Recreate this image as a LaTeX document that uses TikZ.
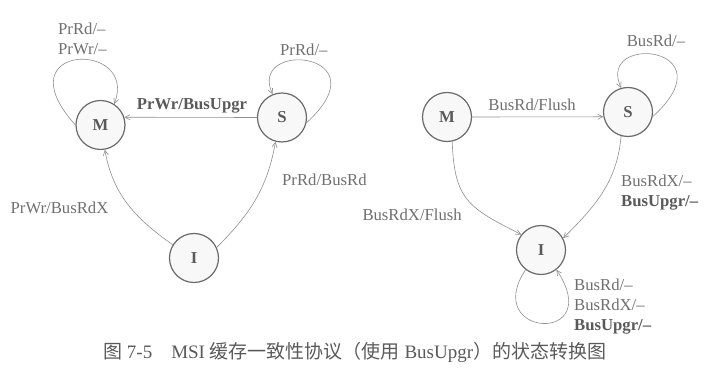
\documentclass[tikz,border=0pt]{standalone}
\usepackage{fontspec}
\setmainfont{Liberation Serif}
\newfontfamily\cjk{Noto Sans CJK SC}
\usetikzlibrary{arrows.meta}
\definecolor{inkgray}{HTML}{6F6F6F}
\definecolor{boldgray}{HTML}{5A5A5A}
\definecolor{linegray}{HTML}{8F8F8F}
\definecolor{ringgray}{HTML}{6A6A6A}
\definecolor{statefill}{HTML}{F8F8F8}

\begin{document}
\begin{tikzpicture}[x=1pt,y=1pt,
  state/.style={circle, draw=ringgray, line width=1.2pt, fill=statefill,
    minimum size=49pt, inner sep=0pt,
    font=\fontsize{16.7}{20}\selectfont\bfseries, text=boldgray},
  trans/.style={draw=linegray, line width=0.6pt,
    -{Straight Barb[length=5pt,width=5pt]}},
  lbl/.style={font=\fontsize{16.7}{20}\selectfont, text=inkgray, inner sep=0pt},
  blbl/.style={font=\fontsize{16.7}{20}\selectfont\bfseries, text=boldgray, inner sep=0pt},
]
\useasboundingbox (0,0) rectangle (718,377);

% ---------- left: processor-side transitions ----------
\node[state] (lM) at (100.5,252) {M};
\node[state] (lS) at (282,259.5) {S};
\node[state] (lI) at (194,119) {I};

\draw[trans] (lM.180) .. controls ([shift={(-74,82)}]lM.180)
                         and ([shift={(25,64)}]lM.57) .. (lM.57);
\draw[trans] (lS.-12) .. controls ([shift={(78,71)}]lS.-12)
                         and ([shift={(-25,55)}]lS.112) .. (lS.112);
\draw[trans] (lS.west) -- (lM.18);
\draw[trans] (lI.148) to[out=145, in=280] (lM.280);
\draw[trans] (lI.25) to[out=45, in=260] (lS.255);

\node[lbl, anchor=base west] (tM1) at (58,342.5) {PrRd/–};
\node[lbl, anchor=base west] (tM2) at (58,322.5) {PrWr/–};
\node[lbl, anchor=base west] (tS1) at (280,321.5) {PrRd/–};
\node[blbl, anchor=base] (tSM) at (192,267) {PrWr/BusUpgr};
\node[lbl, anchor=base] (tIM) at (59.5,163) {PrWr/BusRdX};
\node[lbl, anchor=base west] (tIS) at (282,191) {PrRd/BusRd};

% ---------- right: bus-side transitions ----------
\node[state] (rM) at (447,260) {M};
\node[state] (rS) at (628,265) {S};
\node[state] (rI) at (541,127) {I};

\draw[trans] (rS.-11) .. controls ([shift={(78,71)}]rS.-11)
                         and ([shift={(-25,55)}]rS.106) .. (rS.106);
\draw[trans] (rI.232) .. controls ([shift={(-45,-68)}]rI.232)
                         and ([shift={(50,-75)}]rI.-52) .. (rI.-52);
\draw[trans] (rM.east) -- (rS.191);
\draw[trans] (rM.-78) to[out=-88, in=153, looseness=1.3] (rI.142);
\draw[trans] (rS.254) to[out=-95, in=45] (rI.28);

\node[lbl, anchor=base] (uS1) at (656,330.3) {BusRd/–};
\node[lbl, anchor=base] (uMS) at (532,266) {BusRd/Flush};
\node[lbl, anchor=base east] (uMI) at (462,156) {BusRdX/Flush};
\node[lbl, anchor=base west] (uSI1) at (621,190.3) {BusRdX/–};
\node[blbl, anchor=base west] (uSI2) at (621,170.3) {BusUpgr/–};
\node[lbl, anchor=base west] (uI1) at (574,86.3) {BusRd/–};
\node[lbl, anchor=base west] (uI2) at (574,66.3) {BusRdX/–};
\node[blbl, anchor=base west] (uI3) at (574,46.3) {BusUpgr/–};

% ---------- caption ----------
\node[anchor=base west, inner sep=0pt, text=boldgray,
      font=\fontsize{19}{22}\selectfont] (cap) at (103,18)
  {{\cjk 图} 7-5\hspace{1em}MSI {\cjk 缓存一致性协议（使用} BusUpgr{\cjk ）的状态转换图}};
\end{tikzpicture}
\end{document}
